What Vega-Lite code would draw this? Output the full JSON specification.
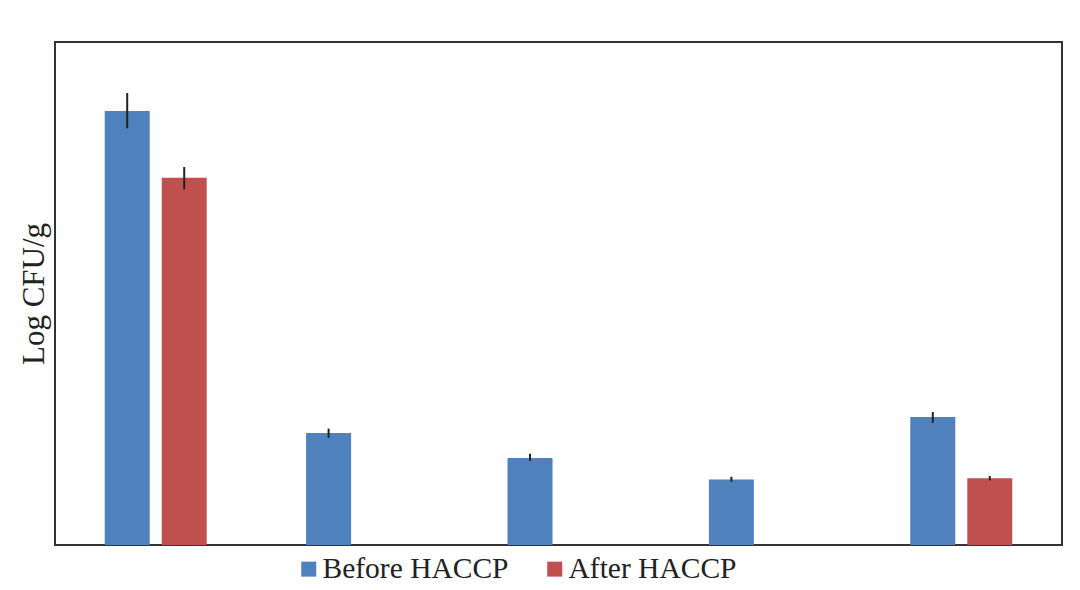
{
  "$schema": "https://vega.github.io/schema/vega-lite/v6.json",
  "autosize": "none",
  "width": 1007,
  "height": 503,
  "padding": {"left": 55, "top": 42, "right": 18, "bottom": 45},
  "background": "white",
  "data": {
    "values": [
      {"group": "G1", "period": "Before HACCP", "value": 6.04, "lo": 5.80, "hi": 6.29},
      {"group": "G1", "period": "After HACCP", "value": 5.11, "lo": 4.95, "hi": 5.26},
      {"group": "G2", "period": "Before HACCP", "value": 1.56, "lo": 1.49, "hi": 1.62},
      {"group": "G3", "period": "Before HACCP", "value": 1.21, "lo": 1.17, "hi": 1.27},
      {"group": "G4", "period": "Before HACCP", "value": 0.91, "lo": 0.88, "hi": 0.95},
      {"group": "G5", "period": "Before HACCP", "value": 1.78, "lo": 1.70, "hi": 1.85},
      {"group": "G5", "period": "After HACCP", "value": 0.93, "lo": 0.90, "hi": 0.96}
    ]
  },
  "encoding": {
    "x": {
      "field": "group",
      "type": "nominal",
      "sort": ["G1", "G2", "G3", "G4", "G5"],
      "scale": {"paddingInner": 0.4935, "paddingOuter": 0.2468},
      "axis": {"labels": false, "ticks": false, "domain": false, "title": null, "grid": false}
    },
    "xOffset": {
      "field": "period",
      "type": "nominal",
      "sort": ["Before HACCP", "After HACCP"],
      "scale": {"paddingInner": 0.2105, "paddingOuter": 0}
    }
  },
  "layer": [
    {
      "mark": {"type": "bar"},
      "encoding": {
        "y": {
          "field": "value",
          "type": "quantitative",
          "scale": {"domain": [0, 7], "nice": false},
          "axis": {"labels": false, "ticks": false, "domain": false, "grid": false, "title": "Log CFU/g", "titlePadding": 5}
        },
        "color": {
          "field": "period",
          "type": "nominal",
          "sort": ["Before HACCP", "After HACCP"],
          "scale": {"domain": ["Before HACCP", "After HACCP"], "range": ["#4F81BD", "#C0504D"]},
          "legend": {
            "title": null,
            "orient": "none",
            "direction": "horizontal",
            "legendX": 239,
            "legendY": 512,
            "symbolType": "square",
            "symbolSize": 225,
            "symbolStrokeWidth": 0,
            "labelFontSize": 29.5,
            "labelOffset": -1,
            "columnPadding": 31,
            "padding": 0
          }
        }
      }
    },
    {
      "mark": {"type": "rule", "color": "#222222", "strokeWidth": 2},
      "encoding": {
        "y": {"field": "lo", "type": "quantitative"},
        "y2": {"field": "hi"}
      }
    }
  ],
  "config": {
    "font": "Liberation Serif",
    "view": {"stroke": "#333333", "strokeWidth": 2},
    "axis": {"titleFont": "Liberation Serif", "titleFontSize": 31, "titleFontWeight": "normal", "titleColor": "#222222"},
    "legend": {"labelFont": "Liberation Serif", "labelColor": "#222222", "labelLimit": 0}
  }
}
